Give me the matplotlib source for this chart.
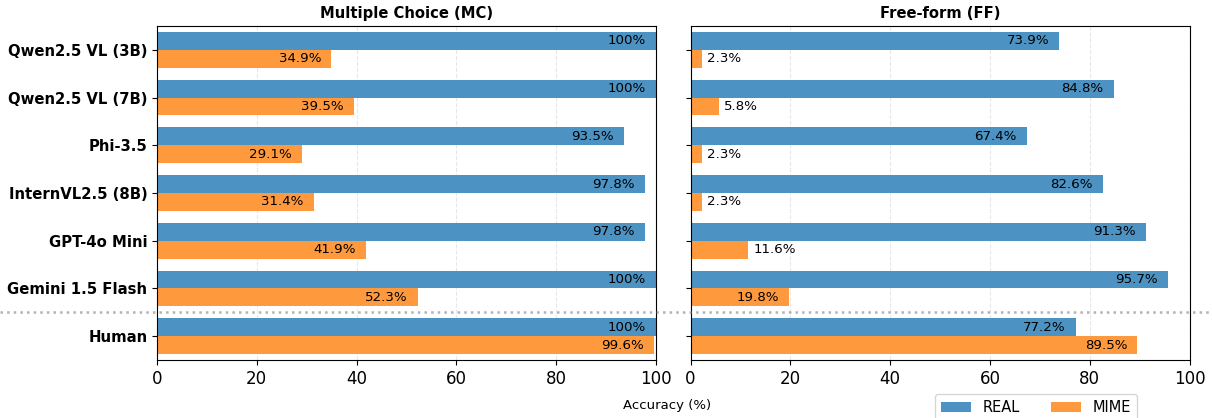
import matplotlib.pyplot as plt
import numpy as np
from matplotlib.lines import Line2D
from matplotlib.transforms import blended_transform_factory

models = ['Qwen2.5 VL (3B)', 'Qwen2.5 VL (7B)', 'Phi-3.5', 'InternVL2.5 (8B)',
          'GPT-4o Mini', 'Gemini 1.5 Flash', 'Human']
mc_real = [100, 100, 93.5, 97.8, 97.8, 100, 100]
mc_mime = [34.9, 39.5, 29.1, 31.4, 41.9, 52.3, 99.6]
ff_real = [73.9, 84.8, 67.4, 82.6, 91.3, 95.7, 77.2]
ff_mime = [2.3, 5.8, 2.3, 2.3, 11.6, 19.8, 89.5]
titles = ['Multiple Choice (MC)', 'Free-form (FF)']

c_real = '#4C92C3'
c_mime = '#FF993E'
h = 0.375

fig = plt.figure(figsize=(12.12, 4.18), dpi=100)
ax1 = fig.add_axes([157/1212, 1 - 360/418, 499/1212, 334/418])
ax2 = fig.add_axes([690.5/1212, 1 - 360/418, 499/1212, 334/418])

y = np.arange(len(models))


def label(ax, bars, vals):
    for b, v in zip(bars, vals):
        txt = '100%' if v == 100 else f'{v}%'
        cy = b.get_y() + b.get_height() / 2
        if v >= 15:
            ax.text(v - 2, cy, txt, ha='right', va='center', fontsize=9.6)
        else:
            ax.text(v + 1, cy, txt, ha='left', va='center', fontsize=9.6)


for ax, real, mime, title in [(ax1, mc_real, mc_mime, titles[0]),
                              (ax2, ff_real, ff_mime, titles[1])]:
    br = ax.barh(y - h / 2, real, height=h, color=c_real, label='REAL', zorder=2)
    bm = ax.barh(y + h / 2, mime, height=h, color=c_mime, label='MIME', zorder=2)
    label(ax, br, real)
    label(ax, bm, mime)
    ax.set_xlim(0, 100)
    ax.set_ylim(6.5, -0.5)
    ax.set_yticks(y)
    ax.set_xticks([0, 20, 40, 60, 80, 100])
    ax.tick_params(axis='x', labelsize=12)
    ax.grid(axis='x', linestyle='--', alpha=0.3, zorder=0)
    ax.set_title(title, fontsize=10.6, fontweight='bold', pad=6)

ax1.set_yticklabels(models, fontsize=10.7, fontweight='bold')
ax2.set_yticklabels([])

# separator between models and human
tr = blended_transform_factory(fig.transFigure, ax1.transData)
fig.add_artist(Line2D([0, 1], [5.5, 5.5], transform=tr, color='gray',
                      linestyle=':', linewidth=1.8, alpha=0.6))

fig.text(667/1212, 1 - 405/418, 'Accuracy (%)', ha='center', va='center', fontsize=9.5)
handles, labels = ax1.get_legend_handles_labels()
fig.legend(handles, labels, loc='upper center', bbox_to_anchor=(1036/1212, 1 - 394/418),
           ncol=2, fontsize=10.5, frameon=True, columnspacing=2.1,
           handlelength=2.1, borderaxespad=0)

plt.savefig('out.png', dpi=100)
